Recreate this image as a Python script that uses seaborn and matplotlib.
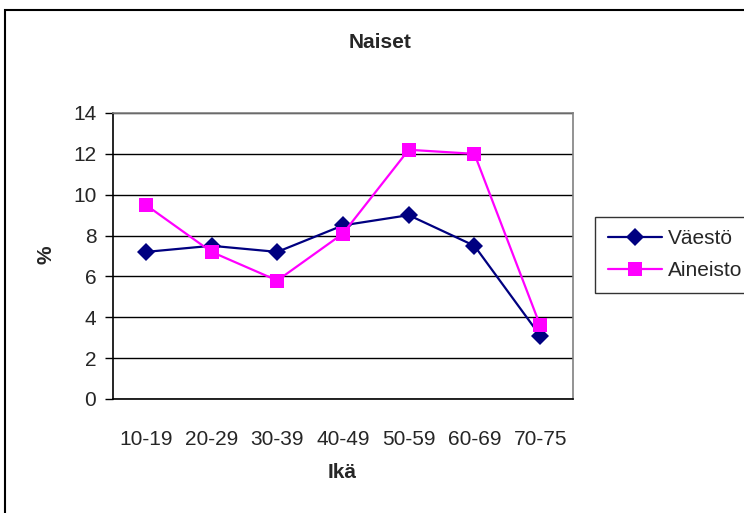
import matplotlib
matplotlib.use("Agg")
import matplotlib.pyplot as plt
from matplotlib.patches import Rectangle
from matplotlib.lines import Line2D
import seaborn as sns
import pandas as pd

ages = ["10-19", "20-29", "30-39", "40-49", "50-59", "60-69", "70-75"]
vaesto = [7.2, 7.5, 7.2, 8.5, 9.0, 7.5, 3.1]
aineisto = [9.5, 7.2, 5.8, 8.1, 12.2, 12.0, 3.6]
series_names = ["Väestö", "Aineisto"]
yticks = [0, 2, 4, 6, 8, 10, 12, 14]

df = pd.DataFrame({
    "Ikä": ages * 2,
    "x": list(range(len(ages))) * 2,
    "%": vaesto + aineisto,
    "sarja": [series_names[0]] * len(ages) + [series_names[1]] * len(ages),
})

sns.set_theme(style="white")
plt.rcParams["font.family"] = ["Liberation Sans", "DejaVu Sans"]

W, H = 744, 513
fig = plt.figure(figsize=(W / 100, H / 100), dpi=100)
ax = fig.add_axes([113 / W, 1 - 399 / H, (573 - 113) / W, (399 - 113) / H])

palette = {"Väestö": "#000080", "Aineisto": "#FF00FF"}
markers = {"Väestö": "D", "Aineisto": "s"}
sns.lineplot(data=df, x="x", y="%", hue="sarja", style="sarja",
             palette=palette, markers=markers, dashes=False,
             markersize=9.5, linewidth=1.6, markeredgewidth=0,
             ax=ax, legend=False)

ax.set_xlim(-0.5, len(ages) - 0.5)
ax.set_ylim(0, 14)
ax.set_yticks(yticks)
ax.set_yticklabels([str(t) for t in yticks], fontsize=15)
ax.yaxis.grid(True, color="#000000", linewidth=1.0)
ax.set_axisbelow(True)

# category labels sit between the boundary ticks
ax.set_xticks([i - 0.5 for i in range(len(ages) + 1)])
ax.set_xticklabels([])
ax.set_xticks(range(len(ages)), minor=True)
ax.set_xticklabels(ages, minor=True, fontsize=15)
ax.tick_params(axis="x", which="minor", length=0, pad=22)
ax.tick_params(axis="x", which="major", direction="out", length=6, width=1, color="black")
ax.tick_params(axis="y", direction="out", length=6, width=1, color="black", pad=6, left=True)

for side in ["left", "bottom"]:
    ax.spines[side].set_color("black")
    ax.spines[side].set_linewidth(1.2)
for side in ["top", "right"]:
    ax.spines[side].set_visible(True)
    ax.spines[side].set_color("#808080")
    ax.spines[side].set_linewidth(1.2)

ax.set_xlabel("")
ax.set_ylabel("")
fig.text(380 / W, 1 - 42 / H, "Naiset", ha="center", va="center",
         fontsize=15, fontweight="bold")
fig.text(342 / W, 1 - 473 / H, "Ikä", ha="center", va="center",
         fontsize=15, fontweight="bold")
fig.text(46 / W, 1 - 255 / H, "%", ha="center", va="center",
         fontsize=15, fontweight="bold", rotation=90)

# outer chart frame
fig.patches.append(Rectangle((5 / W, -0.05), 1.1, 1 - 10 / H + 0.05,
                             transform=fig.transFigure, fill=False,
                             edgecolor="black", linewidth=1.5))

# legend
handles = [
    Line2D([], [], color=palette[n], marker=markers[n], markersize=9.5,
           markeredgewidth=0, linewidth=1.6)
    for n in series_names
]
leg = fig.legend(handles, series_names, loc="upper left",
                 bbox_to_anchor=(595 / W, 1 - 217 / H),
                 frameon=True, fancybox=False, fontsize=15,
                 handlelength=2.6, handletextpad=0.3, borderpad=0.6,
                 labelspacing=0.6, borderaxespad=0)
leg.get_frame().set_edgecolor("black")
leg.get_frame().set_linewidth(1.0)

fig.savefig("out.png", dpi=100)
